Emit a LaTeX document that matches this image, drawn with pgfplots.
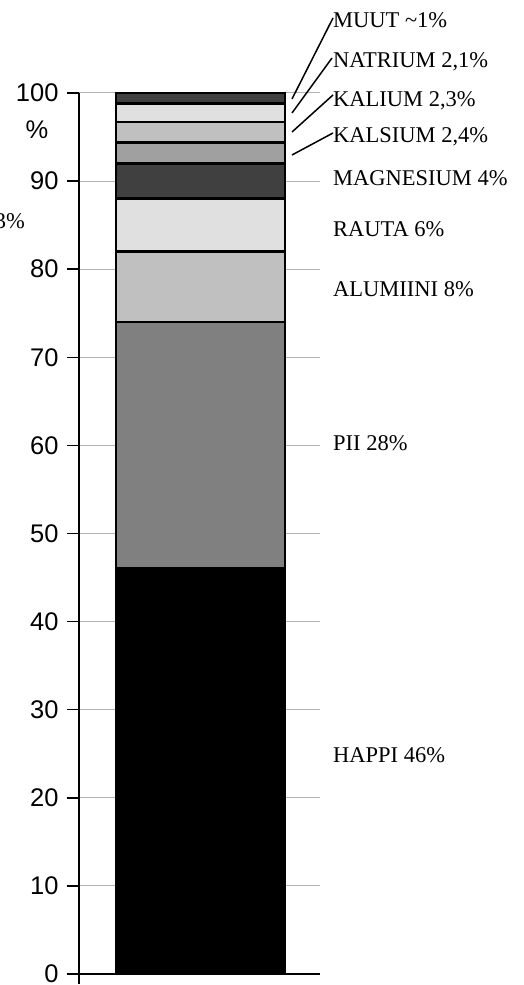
\documentclass[border=0pt]{standalone}
\usepackage{fontspec}
\setmainfont{Liberation Serif}
\newfontfamily\arial{Liberation Sans}
\usepackage{pgfplots}
\pgfplotsset{compat=1.18}

\definecolor{dgray}{HTML}{404040}
\definecolor{mgray}{HTML}{808080}
\definecolor{sgray}{HTML}{A0A0A0}
\definecolor{lgray}{HTML}{C0C0C0}
\definecolor{xlgray}{HTML}{E0E0E0}

\begin{document}
\begin{tikzpicture}[x=1bp, y=1bp]
  \begin{axis}[
      at={(79bp,11bp)}, anchor=south west,
      scale only axis, width=241bp, height=881bp,
      xmin=0, xmax=241, ymin=0, ymax=100,
      ybar stacked, bar width=169, bar shift=0,
      axis x line*=bottom, axis y line*=left,
      axis line style={line width=2bp, black},
      xtick=\empty,
      ytick={0,10,...,100},
      tick align=outside, major tick length=12bp,
      tick style={black, line width=1.5bp},
      ymajorgrids, major grid style={black!30, line width=1bp},
      /pgf/number format/assume math mode=true,
      yticklabel style={font=\arial\fontsize{25.5bp}{26bp}\selectfont, anchor=east, xshift=-5bp},
      clip=false,
      every axis plot/.append style={draw=black, line width=2.5bp},
    ]
    \addplot[fill=black] coordinates {(121.5,46)};   % HAPPI
    \addplot[fill=mgray] coordinates {(121.5,28)};   % PII
    \addplot[fill=lgray] coordinates {(121.5,8)};    % ALUMIINI
    \addplot[fill=xlgray] coordinates {(121.5,6)};   % RAUTA
    \addplot[fill=dgray] coordinates {(121.5,4)};    % MAGNESIUM
    \addplot[fill=sgray] coordinates {(121.5,2.4)};  % KALSIUM
    \addplot[fill=lgray] coordinates {(121.5,2.3)};  % KALIUM
    \addplot[fill=xlgray] coordinates {(121.5,2.1)}; % NATRIUM
    \addplot[fill=dgray] coordinates {(121.5,1.2)};  % MUUT
    \draw[line width=2bp] (axis cs:0,0) -- ++(0,-10bp);
  \end{axis}

  % labels
  \begin{scope}[every node/.style={inner sep=0pt, anchor=base west,
      font=\fontsize{22.5bp}{24bp}\selectfont}]
    \node at (333,957) {MUUT \textasciitilde1\%};
    \node at (333,917) {NATRIUM 2,1\%};
    \node at (333,878) {KALIUM 2,3\%};
    \node at (333,842) {KALSIUM 2,4\%};
    \node at (333,799) {MAGNESIUM 4\%};
    \node at (333,748) {RAUTA 6\%};
    \node at (333,688) {ALUMIINI 8\%};
    \node at (333,534) {PII 28\%};
    \node at (333,222) {HAPPI 46\%};
    \node[anchor=base east] at (25,756) {3\%};
  \end{scope}
  \node[inner sep=0pt, font=\arial\fontsize{25.5bp}{26bp}\selectfont] at (37,855) {\%};

  % leader lines
  \begin{scope}[line width=1.5bp]
    \draw (292,886) -- (333,967);
    \draw (292,872) -- (332,927);
    \draw (292,853) -- (333,890);
    \draw (292,830) -- (333,852);
  \end{scope}

  \pgfresetboundingbox
  \path[use as bounding box] (0,0) rectangle (524,985);
\end{tikzpicture}
\end{document}
